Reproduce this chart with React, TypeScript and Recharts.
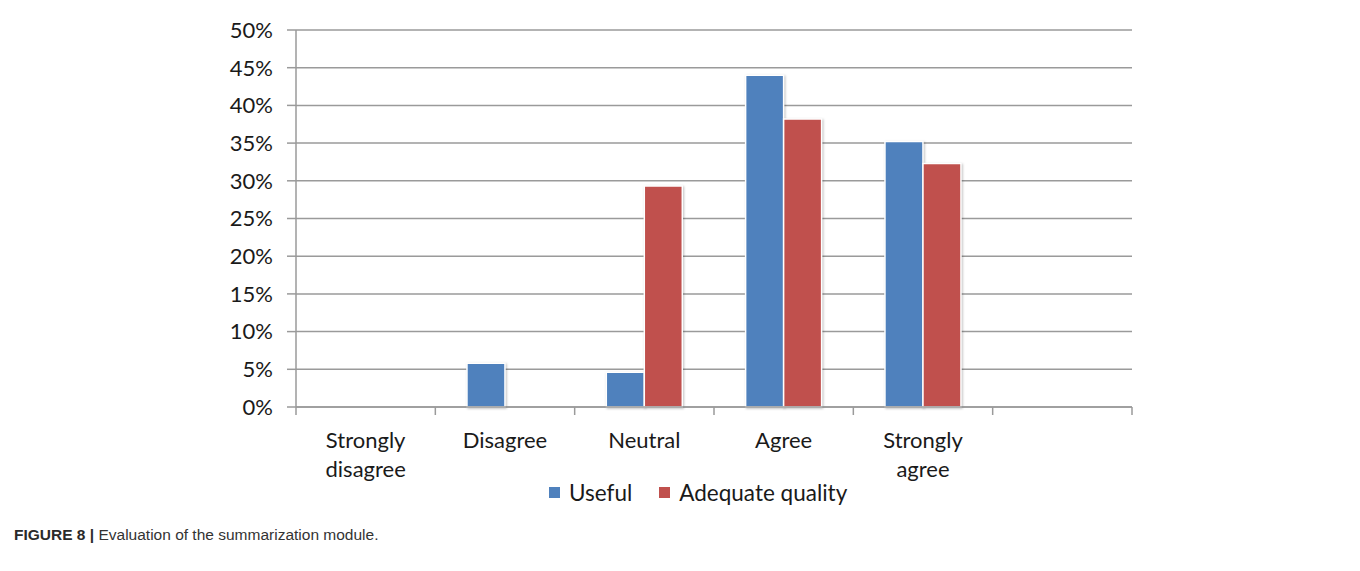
import { BarChart, Bar, XAxis, YAxis, CartesianGrid, Legend } from "recharts";

// survey answers, share of respondents (%)
const categories = ["Strongly disagree", "Disagree", "Neutral", "Agree", "Strongly agree", ""];
const useful = [0, 5.8, 4.6, 44.0, 35.2, 0];
const adequateQuality = [0, 0, 29.3, 38.2, 32.3, 0];
const yTicks = [0, 5, 10, 15, 20, 25, 30, 35, 40, 45, 50];

const seriesNames = ["Useful", "Adequate quality"];
const COLORS = ["#4F81BD", "#C0504D"];

const data = categories.map((name, i) => ({
    name,
    useful: useful[i],
    adequate: adequateQuality[i],
}));

const FONT = "Lato, 'Open Sans', sans-serif";
const GRID = "#9a9a9a";

function CategoryTick(props: any) {
    const { x, y, payload, index } = props;
    const half = payload?.offset ?? 0;
    const words = String(payload.value).split(" ").filter(Boolean);
    return (
        <g>
            <line x1={x - half} x2={x - half} y1={y} y2={y + 8} stroke={GRID} strokeWidth={1.5} />
            {index === categories.length - 1 && (
                <line x1={x + half} x2={x + half} y1={y} y2={y + 8} stroke={GRID} strokeWidth={1.5} />
            )}
            <text x={x} y={y + 41} textAnchor="middle" fill="#1a1a1a" fontSize={22} fontFamily={FONT}>
                {words.map((w, i) => (
                    <tspan key={i} x={x} dy={i === 0 ? 0 : 29}>
                        {w}
                    </tspan>
                ))}
            </text>
        </g>
    );
}

function LegendContent() {
    return (
        <div style={{ display: "flex", alignItems: "center", height: 30, fontFamily: FONT, fontSize: 22.5, color: "#1a1a1a" }}>
            {seriesNames.map((n, i) => (
                <div key={n} style={{ display: "flex", alignItems: "center", marginRight: 27 }}>
                    <span style={{ width: 11, height: 11, background: COLORS[i], marginRight: 9, display: "inline-block" }} />
                    <span>{n}</span>
                </div>
            ))}
        </div>
    );
}

export default function App() {
    return (
        <div style={{ position: "relative", width: 1360, height: 571, margin: -8, background: "#fff", overflow: "hidden" }}>
            {/* figure frame: top, left and right edges */}
            <svg width={1360} height={571} style={{ position: "absolute", left: 0, top: 0 }}>
                <path d="M7 580 L7 6 L1356 6 L1356 580" fill="none" stroke="#555" strokeWidth={2} />
            </svg>
            <div style={{ position: "absolute", left: 0, top: 0 }}>
                <BarChart
                    width={1360}
                    height={515}
                    data={data}
                    margin={{ top: 30, right: 228, left: 236, bottom: 8 }}
                    barCategoryGap="22.7%"
                    barGap={0}
                >
                    <CartesianGrid vertical={false} stroke={GRID} strokeWidth={1.5} />
                    <XAxis
                        dataKey="name"
                        height={70}
                        interval={0}
                        tickSize={0}
                        tickMargin={0}
                        tickLine={false}
                        axisLine={{ stroke: GRID, strokeWidth: 1.5 }}
                        tick={<CategoryTick />}
                    />
                    <YAxis
                        width={60}
                        domain={[0, 50]}
                        ticks={yTicks}
                        interval={0}
                        tickFormatter={(v) => `${v}%`}
                        tickSize={9}
                        tickMargin={14}
                        tickLine={{ stroke: GRID, strokeWidth: 1.5 }}
                        axisLine={{ stroke: GRID, strokeWidth: 1.5 }}
                        tick={{ fill: "#1a1a1a", fontSize: 22, fontFamily: FONT }}
                    />
                    <Legend
                        verticalAlign="bottom"
                        content={<LegendContent />}
                        wrapperStyle={{ left: 549, width: 380 }}
                    />
                    <Bar
                        dataKey="useful"
                        name={seriesNames[0]}
                        fill={COLORS[0]}
                        stroke="#fff"
                        strokeWidth={1.5}
                        style={{ filter: "drop-shadow(1px 1px 1px rgba(0,0,0,0.25))" }}
                        isAnimationActive={false}
                    />
                    <Bar
                        dataKey="adequate"
                        name={seriesNames[1]}
                        fill={COLORS[1]}
                        stroke="#fff"
                        strokeWidth={1.5}
                        style={{ filter: "drop-shadow(1px 1px 1px rgba(0,0,0,0.25))" }}
                        isAnimationActive={false}
                    />
                </BarChart>
            </div>
            <div
                style={{
                    position: "absolute",
                    left: 14,
                    top: 526,
                    fontFamily: "'Liberation Sans', Arial, sans-serif",
                    fontSize: 15.5,
                    color: "#333",
                    whiteSpace: "nowrap",
                }}
            >
                <b style={{ color: "#2a2a2a" }}>FIGURE 8 |</b> Evaluation of the summarization module.
            </div>
        </div>
    );
}
